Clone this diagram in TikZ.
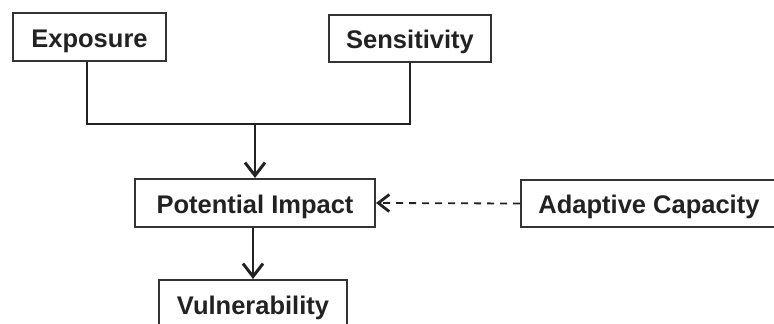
\documentclass[tikz,border=0pt]{standalone}
\usepackage{fontspec}
\setmainfont{Liberation Sans}
\usetikzlibrary{arrows.meta}
\definecolor{ink}{HTML}{222222}
\definecolor{frame}{HTML}{333333}
\tikzset{
  box/.style={draw=frame, line width=2pt, fill=white, inner sep=0pt,
    text=ink, text height=20.5pt, text depth=0pt,
    font=\fontsize{25.5}{28}\selectfont\bfseries},
  link/.style={draw=ink, line width=2.5pt},
  vtip/.style={-{Straight Barb[length=13pt,width=20pt,line width=3pt]}},
  dashlink/.style={draw=ink, line width=1.8pt, dash pattern=on 7pt off 6pt,
    -{Straight Barb[length=11pt,width=17pt,line width=2.8pt]}}
}
\begin{document}
\begin{tikzpicture}[x=1pt,y=-1pt]
  \useasboundingbox (0,0) rectangle (774,324);
  % boxes
  \node[box, minimum width=153pt, minimum height=48pt] (exp) at (89.5,37) {Exposure};
  \node[box, minimum width=162pt, minimum height=47pt] (sen) at (410,38.5) {Sensitivity};
  \node[box, minimum width=240pt, minimum height=48pt] (pot) at (255,203) {Potential Impact};
  \node[box, minimum width=256pt, minimum height=47pt] (ada) at (649,203.5) {Adaptive Capacity};
  \node[box, minimum width=188pt, minimum height=48pt] (vul) at (253,304) {Vulnerability};
  % junction where the two inputs meet
  \coordinate (j) at (255,124);
  % connectors
  \draw[link] ([xshift=-2.5pt]exp.south) |- (j) -| (sen.south);
  \draw[link, vtip] (j) -- (pot.north);
  \draw[link, vtip] (vul.north |- pot.south) -- (vul.north);
  \draw[dashlink] (ada.west) -- (pot.east);
\end{tikzpicture}
\end{document}
